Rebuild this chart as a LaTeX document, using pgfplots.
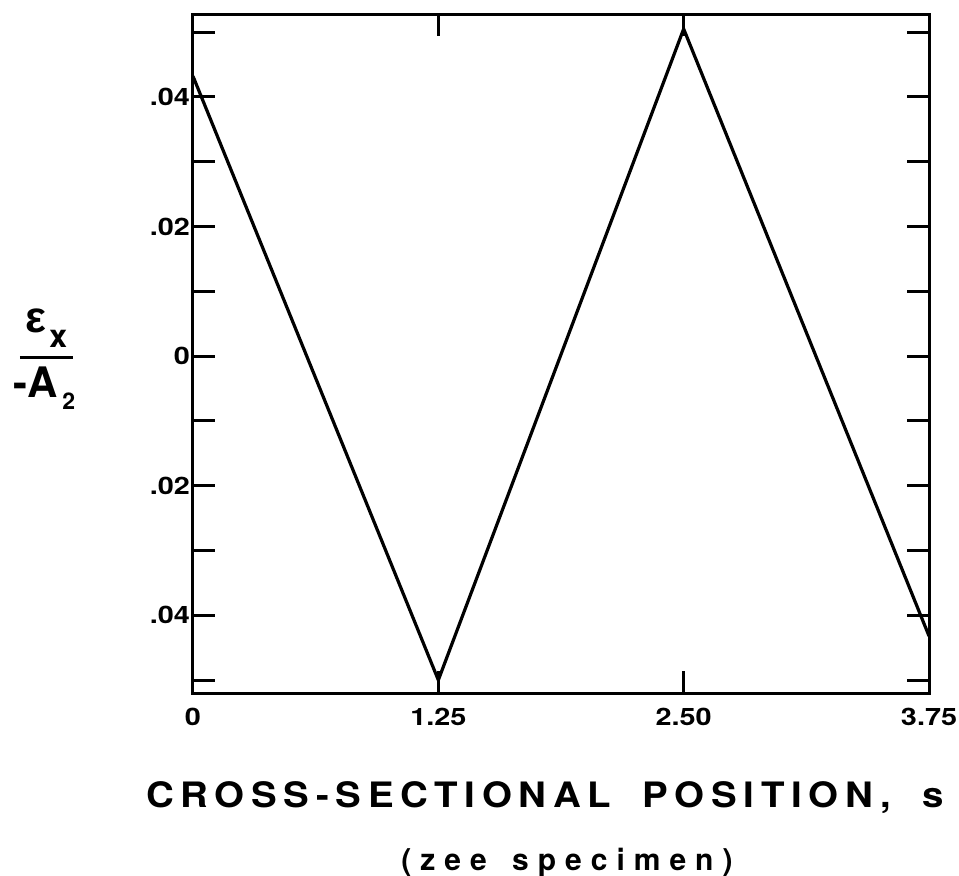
\documentclass[border=0pt]{standalone}
\usepackage{pgfplots}
\pgfplotsset{compat=1.18}
\usepackage{fontspec}
\setmainfont{TeX Gyre Heros}
\newfontfamily\greekfont{Liberation Sans}
\newfontfamily\wideheros[FakeStretch=1.2]{TeX Gyre Heros}
\newfontfamily\titleheros[FakeStretch=1.1, LetterSpace=19]{TeX Gyre Heros}
\newfontfamily\noteheros[LetterSpace=30]{TeX Gyre Heros}

\begin{document}
\begin{tikzpicture}
\useasboundingbox (-96.5pt,-91pt) rectangle (383pt,346.5pt);
\begin{axis}[
  scale only axis,
  width=368pt, height=339.5pt,
  at={(0,0)}, anchor=south west,
  xmin=0, xmax=3.75,
  ymin=-0.052, ymax=0.0528,
  axis line style={line width=1.5pt},
  scaled y ticks=false, scaled x ticks=false,
  xtick={0,1.25,2.5,3.75},
  xticklabels={0,1.25,2.50,3.75},
  ytick={-0.05,-0.04,-0.03,-0.02,-0.01,0,0.01,0.02,0.03,0.04,0.05},
  yticklabels={,.04,,.02,,0,,.02,,.04,},
  xtick pos=both, ytick pos=both,
  xticklabel pos=lower, yticklabel pos=left,
  tick align=inside,
  major tick length=11pt,
  every tick/.style={black, line width=1.5pt},
  tick label style={font=\wideheros\fontsize{12}{14}\selectfont\bfseries},
  xticklabel style={yshift=-4pt},
  yticklabel style={xshift=2pt},
  /pgf/number format/assume math mode=true,
]
\addplot[black, line width=1.6pt, line join=miter] coordinates {
  (0,0.0432) (1.25,-0.0500) (2.5,0.0505) (3.75,-0.0432)
};
\end{axis}

% y-axis label: normalised strain, eps_x over -A_2
\begin{scope}[every node/.style={inner sep=0pt, anchor=base west}]
  \node[font=\greekfont\fontsize{22}{22}\selectfont\bfseries] at (-84pt,180.5pt) {ε};
  \node[font=\fontsize{16}{16}\selectfont\bfseries] at (-72pt,173pt) {x};
  \node[font=\fontsize{21}{21}\selectfont\bfseries] at (-90pt,148pt) {-A};
  \node[font=\fontsize{11.5}{12}\selectfont\bfseries] at (-65.5pt,142pt) {2};
\end{scope}
\draw[line width=1.5pt] (-86.5pt,168pt) -- (-60pt,168pt);

% x-axis label, two lines
\node[anchor=base, inner sep=0pt,
  font=\titleheros\fontsize{17.5}{18}\selectfont\bfseries]
  at (176pt,-57pt) {CROSS-SECTIONAL\hspace{7pt} POSITION,\hspace{7pt} s};
\node[anchor=base, inner sep=0pt,
  font=\noteheros\fontsize{15}{15}\selectfont\bfseries]
  at (187pt,-88.5pt) {(zee\hspace{4pt} specimen)};
\end{tikzpicture}
\end{document}
